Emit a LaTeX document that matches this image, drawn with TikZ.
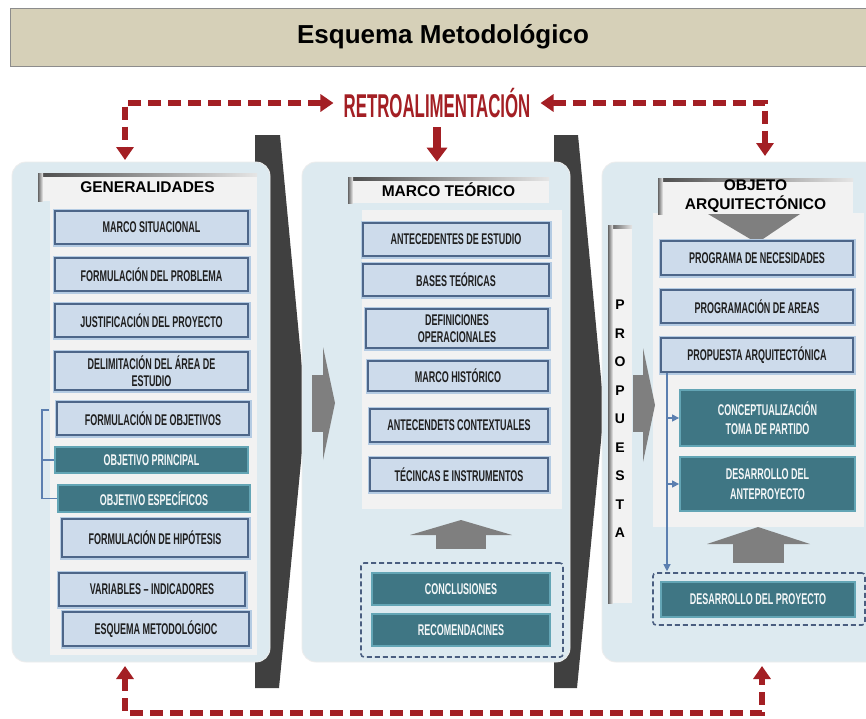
\documentclass[tikz,border=0pt]{standalone}
\usepackage{fontspec}
\setmainfont{Liberation Sans}
\newfontfamily\boxfont[FakeStretch=0.58]{Liberation Sans}
\newfontfamily\retrofont[FakeStretch=0.51]{Liberation Sans}
\usetikzlibrary{arrows.meta}

\definecolor{panelc}{HTML}{DDEAF0}
\definecolor{innerc}{HTML}{F2F2F2}
\definecolor{boxc}{HTML}{CDDBEB}
\definecolor{boxline}{HTML}{4D6689}
\definecolor{glowc}{HTML}{B4CBE3}
\definecolor{tealc}{HTML}{3F7684}
\definecolor{teall}{HTML}{63A5B5}
\definecolor{barc}{HTML}{404040}
\definecolor{arrc}{HTML}{7F7F7F}
\definecolor{redc}{HTML}{A31F24}
\definecolor{titlec}{HTML}{D6D0B8}
\definecolor{dashc}{HTML}{4A5E80}
\definecolor{linkc}{HTML}{5B7FB0}

\begin{document}
\begin{tikzpicture}[x=1pt,y=-1pt,
  titlebar/.style={draw=black!45, line width=0.8pt, fill=titlec, minimum width=866pt, minimum height=58pt,
    font=\bfseries\fontsize{26}{30}\selectfont, inner sep=0pt},
  panel/.style={fill=panelc, draw=black!7, line width=0.8pt, rounded corners=14pt, inner sep=0pt},
  sheet/.style={fill=innerc, inner sep=0pt,
    path picture={
      \shade[left color=black!70, right color=black!10]
        (path picture bounding box.north west) rectangle ([yshift=-3pt]path picture bounding box.north east);
      \shade[left color=black!60, right color=innerc]
        (path picture bounding box.north west) rectangle ([xshift=5pt]path picture bounding box.south west);
    }},
  hdr/.style={sheet, font=\bfseries\fontsize{15.5}{19}\selectfont, align=center},
  bbox/.style={draw=boxline, line width=1.6pt, fill=boxc, preaction={draw=glowc, line width=5pt},
    font=\boxfont\bfseries\fontsize{15.5}{17.5}\selectfont, text=black!88, align=center, inner sep=0pt},
  tbox/.style={draw=teall, line width=1.8pt, fill=tealc,
    font=\boxfont\bfseries\fontsize{15.5}{19.5}\selectfont, text=white!94!tealc, align=center, inner sep=0pt},
  dbox/.style={draw=dashc, line width=1.6pt, dash pattern=on 5pt off 3pt, rounded corners=3pt, inner sep=0pt},
  fb/.style={draw=redc, line width=5.5pt, dash pattern=on 13pt off 7pt,
    {Triangle[width=17pt,length=13pt]}-{Triangle[width=17pt,length=13pt]}},
  link/.style={draw=linkc, line width=1.1pt},
  grayarrow/.style={fill=arrc}
]
\useasboundingbox (0,0) rectangle (866,718);
\fill[white] (0,0) rectangle (866,718);

% title bar
\node[titlebar] (title) at (443,37) {Esquema Metodológico};

% dark chevron bars behind the panels
\fill[barc] (255,135) -- (280,135) -- (306,410) -- (279,688) -- (255,688) -- cycle;
\fill[barc] (554,135) -- (578,135) -- (604,410) -- (577,688) -- (554,688) -- cycle;

% panels
\node[panel, minimum width=258pt, minimum height=500pt] (p1) at (141,412) {};
\node[panel, minimum width=268pt, minimum height=500pt] (p2) at (436,412) {};
\node[panel, minimum width=278pt, minimum height=500pt] (p3) at (741,412) {};

% inner light areas
\fill[innerc] (50,201) rectangle (257,655);
\fill[innerc] (362,210) rectangle (562,509);
\fill[innerc] (653,213) rectangle (864,527);

% gray block arrows
\fill[grayarrow] (312,375) rectangle (323.5,432);
\fill[grayarrow] (323,347) -- (335,403) -- (323,460) -- cycle;
\fill[grayarrow] (633,375) rectangle (643.5,432);
\fill[grayarrow] (643,348) -- (655,405) -- (643,462) -- cycle;
\fill[grayarrow] (436,534) rectangle (486,549);
\fill[grayarrow] (410,535) -- (461,520) -- (512,535) -- cycle;
\fill[grayarrow] (733,543) rectangle (784,563);
\fill[grayarrow] (707,544) -- (758,527) -- (810,544) -- cycle;
\fill[grayarrow] (708,214) -- (800,214) -- (757,243) -- cycle;

% headers
\node[hdr, minimum width=219pt, minimum height=28pt] (h1) at (147.5,187) {GENERALIDADES};
\node[hdr, minimum width=201pt, minimum height=26pt] (h2) at (448.5,190) {MARCO TEÓRICO};
\node[hdr, minimum width=195pt, minimum height=36pt] (h3) at (755.5,196) {OBJETO\\ARQUITECTÓNICO};

% vertical PROPUESTA strip
\node[sheet, minimum width=24pt, minimum height=378pt] (strip) at (620,414) {};
\node[align=center, font=\bfseries\fontsize{14}{28.5}\selectfont, inner sep=0pt] (propuesta) at (620,419)
  {P\\R\\O\\P\\U\\E\\S\\T\\A};

% GENERALIDADES column
\node[bbox, minimum width=193pt, minimum height=33pt] (m1) at (151.5,227.5) {MARCO SITUACIONAL};
\node[bbox, minimum width=193pt, minimum height=33pt] (m2) at (151.5,274.5) {FORMULACIÓN DEL PROBLEMA};
\node[bbox, minimum width=193pt, minimum height=33pt] (m3) at (151.5,320.5) {JUSTIFICACIÓN DEL PROYECTO};
\node[bbox, minimum width=193pt, minimum height=38pt] (m4) at (151.5,371) {DELIMITACIÓN DEL ÁREA DE\\ESTUDIO};
\node[bbox, minimum width=192pt, minimum height=33pt] (m5) at (153,418.5) {FORMULACIÓN DE OBJETIVOS};
\node[tbox, minimum width=193pt, minimum height=26pt] (m6) at (151.5,460) {OBJETIVO PRINCIPAL};
\node[tbox, minimum width=192pt, minimum height=27pt] (m7) at (154,498.5) {OBJETIVO ESPECÍFICOS};
\node[bbox, minimum width=186pt, minimum height=38pt] (m8) at (155,538) {FORMULACIÓN DE HIPÓTESIS};
\node[bbox, minimum width=186pt, minimum height=33pt] (m9) at (152,589.5) {VARIABLES – INDICADORES};
\node[bbox, minimum width=186pt, minimum height=34pt] (m10) at (156,629) {ESQUEMA METODOLÓGIOC};

% bracket joining the objectives
\coordinate (brk) at (42,410);
\draw[link] (49,410) -- (brk) -- (brk |- m7.west) -- (m7.west);
\draw[link] (brk |- m6.west) -- (m6.west);

% MARCO TEÓRICO column
\node[bbox, minimum width=186pt, minimum height=33pt] (t1) at (456,239.5) {ANTECEDENTES DE ESTUDIO};
\node[bbox, minimum width=186pt, minimum height=32pt] (t2) at (456,280) {BASES TEÓRICAS};
\node[bbox, minimum width=182pt, minimum height=39pt] (t3) at (457,328.5) {DEFINICIONES\\OPERACIONALES};
\node[bbox, minimum width=180pt, minimum height=30pt] (t4) at (458,376) {MARCO HISTÓRICO};
\node[bbox, minimum width=178pt, minimum height=33pt] (t5) at (459,425.5) {ANTECENDETS CONTEXTUALES};
\node[bbox, minimum width=178pt, minimum height=33pt] (t6) at (459,474.5) {TÉCINCAS E INSTRUMENTOS};
\node[dbox, minimum width=202pt, minimum height=94pt] (d2) at (462,610) {};
\node[tbox, minimum width=178pt, minimum height=32pt] (c1) at (461,589) {CONCLUSIONES};
\node[tbox, minimum width=178pt, minimum height=32pt] (c2) at (461,630) {RECOMENDACINES};

% OBJETO ARQUITECTÓNICO column
\node[bbox, minimum width=192pt, minimum height=34pt] (o1) at (757,258) {PROGRAMA DE NECESIDADES};
\node[bbox, minimum width=192pt, minimum height=33pt] (o2) at (757,306.5) {PROGRAMACIÓN DE AREAS};
\node[bbox, minimum width=192pt, minimum height=34pt] (o3) at (757,355) {PROPUESTA ARQUITECTÓNICA};
\node[tbox, minimum width=175pt, minimum height=56pt] (o4) at (767.5,418) {CONCEPTUALIZACIÓN\\TOMA DE PARTIDO};
\node[tbox, minimum width=175pt, minimum height=54pt] (o5) at (767.5,484) {DESARROLLO DEL\\ANTEPROYECTO};
\node[dbox, minimum width=212pt, minimum height=52pt] (d3) at (759,599) {};
\node[tbox, minimum width=194pt, minimum height=35pt] (o6) at (758,599.5) {DESARROLLO DEL PROYECTO};

% links from the proposal to its stages
\coordinate (trunk) at (667,372);
\draw[link, -{Triangle[width=7pt,length=7pt]}] (o3.south -| trunk) -- ([yshift=1pt]d3.north -| trunk);
\draw[link, -{Triangle[width=7pt,length=7pt]}] (trunk |- o4.west) -- (o4.west);
\draw[link, -{Triangle[width=7pt,length=7pt]}] (trunk |- o5.west) -- (o5.west);

% feedback label and arrows
\node[text=redc, font=\retrofont\bfseries\fontsize{33}{36}\selectfont, inner xsep=10pt, inner ysep=0pt] (retro) at (437,103) {RETROALIMENTACIÓN};
\coordinate (fbL) at (125,160);
\coordinate (fbR) at (765,156);
\draw[fb] (retro.west) -| (fbL);
\draw[fb] (retro.east) -| (fbR);
\coordinate (midTop) at (437,127);
\draw[draw=redc, line width=8pt, -{Triangle[width=20pt,length=14pt]}] (midTop) -- (p2.north -| midTop);

\coordinate (fbBL) at (125,666);
\coordinate (fbBR) at (762,666);
\coordinate (fbB) at (0,713);
\draw[fb] (fbBL) -- (fbBL |- fbB) -- (fbBR |- fbB) -- (fbBR);
\end{tikzpicture}
\end{document}
